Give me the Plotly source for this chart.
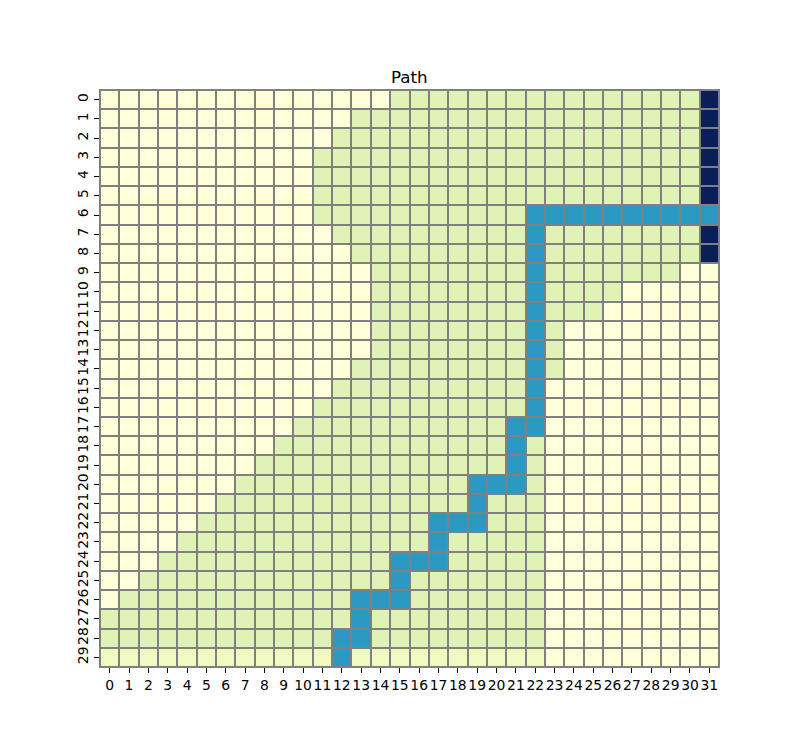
import plotly.graph_objects as go

# Cell codes: 0 = empty (yellow), 1 = start row (pale green), 2 = explored (green),
#             3 = path (blue), 4 = goal column (navy)
n_rows = 30
n_cols = 32
x_labels = [str(i) for i in range(n_cols)]
y_labels = [str(i) for i in range(n_rows)]

# Each row as run-length pairs (code, count)
row_runs = [
    [(0, 15), (2, 16), (4, 1)],                                   # 0
    [(0, 13), (2, 18), (4, 1)],                                   # 1
    [(0, 12), (2, 19), (4, 1)],                                   # 2
    [(0, 11), (2, 20), (4, 1)],                                   # 3
    [(0, 11), (2, 20), (4, 1)],                                   # 4
    [(0, 11), (2, 20), (4, 1)],                                   # 5
    [(0, 11), (2, 11), (3, 10)],                                  # 6
    [(0, 12), (2, 10), (3, 1), (2, 8), (4, 1)],                   # 7
    [(0, 13), (2, 9), (3, 1), (2, 8), (4, 1)],                    # 8
    [(0, 14), (2, 8), (3, 1), (2, 7), (0, 2)],                    # 9
    [(0, 14), (2, 8), (3, 1), (2, 4), (0, 5)],                    # 10
    [(0, 14), (2, 8), (3, 1), (2, 3), (0, 6)],                    # 11
    [(0, 14), (2, 8), (3, 1), (2, 1), (0, 8)],                    # 12
    [(0, 14), (2, 8), (3, 1), (2, 1), (0, 8)],                    # 13
    [(0, 13), (2, 9), (3, 1), (2, 1), (0, 8)],                    # 14
    [(0, 12), (2, 10), (3, 1), (0, 9)],                           # 15
    [(0, 11), (2, 11), (3, 1), (0, 9)],                           # 16
    [(0, 10), (2, 11), (3, 2), (0, 9)],                           # 17
    [(0, 9), (2, 12), (3, 1), (2, 1), (0, 9)],                    # 18
    [(0, 8), (2, 13), (3, 1), (2, 1), (0, 9)],                    # 19
    [(0, 7), (2, 12), (3, 3), (2, 1), (0, 9)],                    # 20
    [(0, 6), (2, 13), (3, 1), (2, 3), (0, 9)],                    # 21
    [(0, 5), (2, 12), (3, 3), (2, 3), (0, 9)],                    # 22
    [(0, 4), (2, 13), (3, 1), (2, 5), (0, 9)],                    # 23
    [(0, 3), (2, 12), (3, 3), (2, 5), (0, 9)],                    # 24
    [(0, 2), (2, 13), (3, 1), (2, 7), (0, 9)],                    # 25
    [(0, 1), (2, 12), (3, 3), (2, 7), (0, 9)],                    # 26
    [(2, 13), (3, 1), (2, 9), (0, 9)],                            # 27
    [(2, 12), (3, 2), (2, 9), (0, 9)],                            # 28
    [(1, 12), (3, 1), (1, 10), (0, 9)],                           # 29
]

z = []
for runs in row_runs:
    row = []
    for code, count in runs:
        row.extend([code] * count)
    assert len(row) == n_cols, len(row)
    z.append(row)

colors = ["#ffffd9", "#f0f9c1", "#e0f3b7", "#2b9ac3", "#0a1e5a"]
ncol = len(colors)
colorscale = []
for i, c in enumerate(colors):
    lo = max(0.0, (i - 0.5) / (ncol - 1))
    hi = min(1.0, (i + 0.5) / (ncol - 1))
    colorscale.append([lo, c])
    colorscale.append([hi, c])

fig = go.Figure(
    go.Heatmap(
        z=z,
        x=list(range(n_cols)),
        y=list(range(n_rows)),
        zmin=0,
        zmax=ncol - 1,
        colorscale=colorscale,
        showscale=False,
        xgap=2,
        ygap=2,
        hoverinfo="skip",
    )
)

font_family = "DejaVu Sans"
fig.update_layout(
    width=800,
    height=750,
    margin=dict(l=100, r=81, t=90, b=83),
    paper_bgcolor="white",
    plot_bgcolor="#808080",
    font=dict(family=font_family, size=13.9, color="black"),
    annotations=[
        dict(
            text="Path",
            x=0.5,
            y=1,
            xref="paper",
            yref="paper",
            xanchor="center",
            yanchor="bottom",
            yshift=1,
            showarrow=False,
            font=dict(family=font_family, size=16.7, color="black"),
        )
    ],
)
fig.update_xaxes(
    range=[-0.5, n_cols - 0.5],
    tickmode="array",
    tickvals=list(range(n_cols)),
    ticktext=x_labels,
    tickangle=0,
    showgrid=False,
    zeroline=False,
    ticks="outside",
    ticklen=5,
    tickwidth=1,
    tickcolor="black",
    showline=True,
    linecolor="#808080",
    linewidth=1,
    mirror=True,
)
fig.update_yaxes(
    range=[n_rows - 0.5, -0.5],
    tickmode="array",
    tickvals=list(range(n_rows)),
    ticktext=y_labels,
    tickangle=-90,
    showgrid=False,
    zeroline=False,
    ticks="outside",
    ticklen=5,
    tickwidth=1,
    tickcolor="black",
    showline=True,
    linecolor="#808080",
    linewidth=1,
    mirror=True,
)

fig.write_html("out.html")
